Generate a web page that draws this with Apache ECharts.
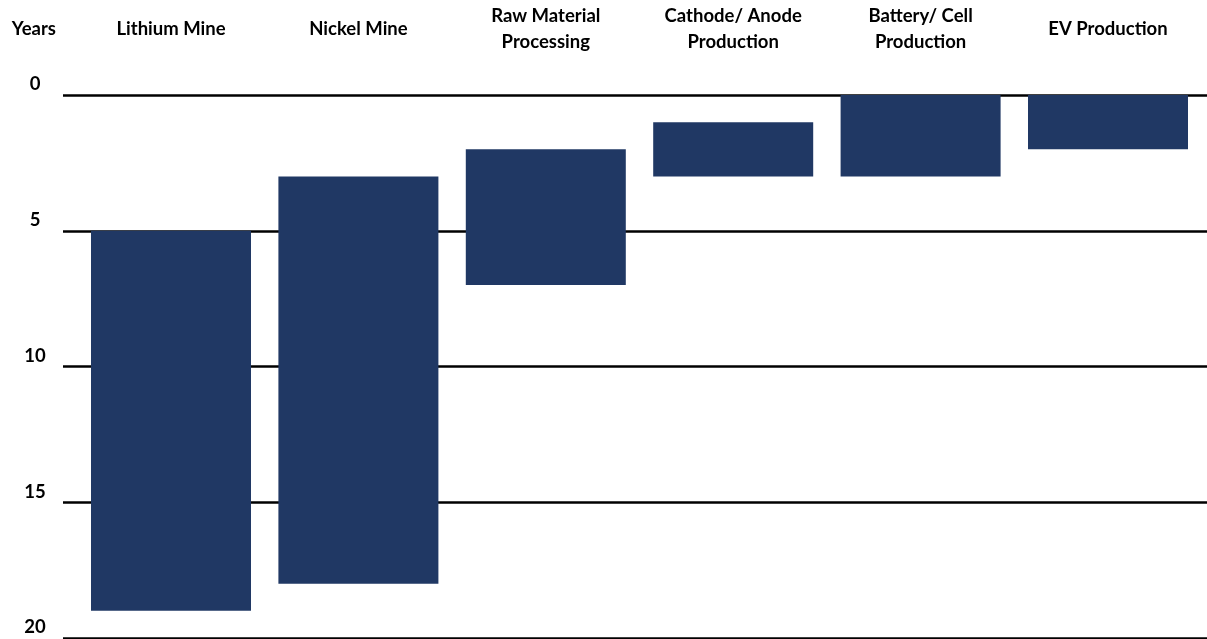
<!DOCTYPE html>
<html>
<head>
<meta charset="utf-8">
<script src="https://cdn.jsdelivr.net/npm/echarts@6/dist/echarts.min.js"></script>
<style>
  html, body { margin: 0; padding: 0; background: #ffffff; }
  #chart { width: 1207px; height: 639px; }
</style>
</head>
<body>
<div id="chart"></div>
<script>
// Stages of the EV supply chain and the years each one takes
const stages = ['Lithium Mine', 'Nickel Mine', 'Raw Material\nProcessing', 'Cathode/ Anode\nProduction', 'Battery/ Cell\nProduction', 'EV Production'];
const startYear = [5, 3, 2, 1, 0, 0];
const endYear = [19, 18, 7, 3, 3, 2];
const yearTicks = [0, 5, 10, 15, 20];

const duration = endYear.map((e, i) => e - startYear[i]);
const FONT = 'Lato, "Open Sans", sans-serif';
const FONT_SIZE = 18.5;

const chart = echarts.init(document.getElementById('chart'));
chart.setOption({
  animation: false,
  backgroundColor: '#ffffff',
  grid: [
    { left: 63, right: 0, top: 95, bottom: 1, outerBoundsMode: 'none' },
    { left: 77.3, right: 5.3, top: 95, bottom: 1, outerBoundsMode: 'none' }
  ],
  xAxis: [
    { gridIndex: 0, type: 'value', show: false, min: 0, max: 1 },
    {
      gridIndex: 1,
      type: 'category',
      position: 'top',
      data: stages,
      axisLine: { show: false },
      axisTick: { show: false },
      axisLabel: {
        interval: 0,
        margin: 66,
        verticalAlign: 'middle',
        color: '#000000',
        fontFamily: FONT,
        fontWeight: 'bold',
        fontSize: FONT_SIZE,
        lineHeight: 26
      }
    }
  ],
  yAxis: [
    {
      gridIndex: 0,
      type: 'value',
      inverse: true,
      min: 0,
      max: 20,
      interval: 5,
      name: 'Years',
      nameLocation: 'start',
      nameGap: 66,
      nameTextStyle: {
        color: '#000000',
        fontFamily: FONT,
        fontWeight: 'bold',
        fontSize: FONT_SIZE,
        align: 'right',
        verticalAlign: 'middle',
        padding: [0, 7, 0, 0]
      },
      axisLine: { show: false },
      axisTick: { show: false },
      splitLine: { show: true, lineStyle: { color: '#000000', width: 2.5 } },
      axisLabel: {
        margin: 28,
        align: 'center',
        verticalAlign: 'bottom',
        lineHeight: 21,
        color: '#000000',
        fontFamily: FONT,
        fontWeight: 'bold',
        fontSize: FONT_SIZE,
        formatter: v => yearTicks.includes(v) ? String(v) : ''
      }
    },
    { gridIndex: 1, type: 'value', inverse: true, min: 0, max: 20, interval: 5, show: false }
  ],
  series: [
    {
      name: 'start',
      type: 'bar',
      xAxisIndex: 1,
      yAxisIndex: 1,
      stack: 'span',
      barWidth: 160,
      itemStyle: { color: 'transparent' },
      silent: true,
      data: startYear
    },
    {
      name: 'duration',
      type: 'bar',
      xAxisIndex: 1,
      yAxisIndex: 1,
      stack: 'span',
      barWidth: 160,
      itemStyle: { color: '#203864' },
      data: duration
    }
  ]
});
</script>
</body>
</html>
